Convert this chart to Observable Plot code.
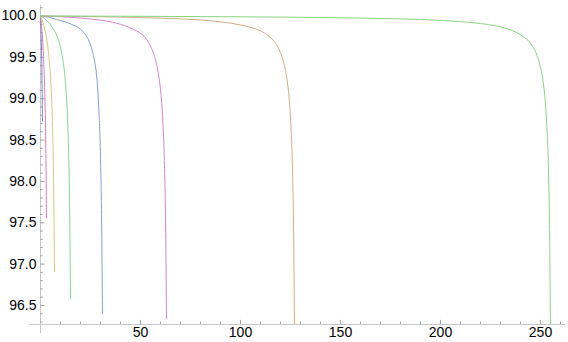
<!DOCTYPE html>
<html>
<head>
<meta charset="utf-8">
<script src="https://cdn.jsdelivr.net/npm/d3@7"></script>
<script src="https://cdn.jsdelivr.net/npm/@observablehq/plot@0.6"></script>
<style>
  html, body { margin: 0; padding: 0; background: #fff; }
  #chart svg { display: block; }
</style>
</head>
<body>
<div id="chart"></div>
<script>
// Series names (curve end points 2^k - 1)
const seriesNames = ["N2", "N4", "N8", "N16", "N32", "N64", "N128", "N256"];
const seriesColors = ["#8482d4", "#d482b0", "#d4c884", "#84d49a", "#849dd4", "#d484cc", "#d4ac84", "#88d484"];

// Values
const x2 = [0, 0.25, 0.5, 0.75, 1];
const y2 = [100, 99.82, 99.58, 99.24, 98.73];

const x4 = [0, 0.5, 1, 1.5, 2, 2.5, 2.75, 3];
const y4 = [100, 99.88, 99.73, 99.51, 99.19, 98.65, 98.21, 97.56];

const x8 = [0, 1, 2, 3, 4, 5, 5.5, 6, 6.5, 7];
const y8 = [100, 99.94, 99.85, 99.74, 99.56, 99.27, 99.03, 98.68, 98.09, 96.91];

const x16 = [0, 2, 4, 6, 8, 10, 11, 12, 13, 13.5, 14, 14.5, 15];
const y16 = [100, 99.97, 99.92, 99.86, 99.77, 99.62, 99.50, 99.32, 99.01, 98.77, 98.40, 97.80, 96.58];

const x32 = [0, 4, 8, 12, 16, 20, 22, 24, 26, 27, 28, 29, 30, 30.5, 31];
const y32 = [100, 99.985, 99.96, 99.93, 99.895, 99.84, 99.79, 99.71, 99.57, 99.46, 99.29, 98.96, 98.30, 97.66, 96.40];

const x64 = [0, 10, 20, 30, 36, 40, 44, 48, 50, 52, 54, 56, 58, 59, 60, 61, 62, 62.5, 63];
const y64 = [100, 99.992, 99.975, 99.95, 99.925, 99.90, 99.865, 99.82, 99.79, 99.75, 99.68, 99.58, 99.42, 99.29, 99.11, 98.80, 98.19, 97.57, 96.34];

const x128 = [0, 20, 40, 60, 80, 90, 100, 105, 110, 114, 117, 119, 121, 122, 123, 124, 125, 126, 126.5, 127];
const y128 = [100, 99.995, 99.987, 99.974, 99.952, 99.93, 99.892, 99.862, 99.82, 99.76, 99.69, 99.61, 99.49, 99.40, 99.27, 99.085, 98.77, 98.14, 97.51, 96.25];

const x256 = [0, 40, 80, 120, 160, 180, 200, 210, 220, 228, 234, 238, 242, 244, 246, 248, 250, 251, 252, 253, 254, 254.5, 255];
const y256 = [100, 99.997, 99.993, 99.987, 99.975, 99.965, 99.947, 99.932, 99.909, 99.879, 99.842, 99.80, 99.74, 99.70, 99.635, 99.54, 99.38, 99.255, 99.065, 98.75, 98.12, 97.48, 96.22];

// Axis ticks
const xLabelTicks = [50, 100, 150, 200, 250];
const xMinorTicks = [10, 20, 30, 40, 60, 70, 80, 90, 110, 120, 130, 140, 160, 170, 180, 190, 210, 220, 230, 240, 260];
const yMajorTicks = [96.5, 97.0, 97.5, 98.0, 98.5, 99.0, 99.5, 100.0];
const yMinorTicks = [96.3, 96.4, 96.6, 96.7, 96.8, 96.9, 97.1, 97.2, 97.3, 97.4, 97.6, 97.7, 97.8, 97.9, 98.1, 98.2, 98.3, 98.4, 98.6, 98.7, 98.8, 98.9, 99.1, 99.2, 99.3, 99.4, 99.6, 99.7, 99.8, 99.9, 100.1];

const xDomain = [0, 262.5];
const yDomain = [96.27, 100.127];

const xs = [x2, x4, x8, x16, x32, x64, x128, x256];
const ys = [y2, y4, y8, y16, y32, y64, y128, y256];
const data = [];
seriesNames.forEach((name, i) => {
  xs[i].forEach((xv, j) => data.push({series: name, x: xv, y: ys[i][j]}));
});

const axisColor = "#c8c8c8";
const tickColor = "#a0a0a0";

const chart = Plot.plot({
  width: 568,
  height: 342,
  marginLeft: 40,
  marginRight: 3,
  marginTop: 5,
  marginBottom: 18,
  style: {fontFamily: "'Liberation Sans', Arial, sans-serif", fontSize: "14px", color: "#000", background: "#fff"},
  x: {domain: xDomain, axis: null},
  y: {domain: yDomain, axis: null},
  color: {domain: seriesNames, range: seriesColors},
  marks: [
    // axis lines
    Plot.ruleY([yDomain[0]], {x1: -5.5, x2: xDomain[1], stroke: axisColor, strokeWidth: 1}),
    Plot.ruleX([0], {y1: 96.16, y2: yDomain[1], stroke: axisColor, strokeWidth: 1}),
    // x ticks (inward)
    Plot.ruleX(xMinorTicks, {x: d => d, y1: yDomain[0], y2: yDomain[0] + 0.03, stroke: tickColor}),
    Plot.ruleX(xLabelTicks, {x: d => d, y1: yDomain[0], y2: yDomain[0] + 0.05, stroke: tickColor}),
    Plot.axisX(xLabelTicks, {anchor: "bottom", label: null, tickSize: 0, tickPadding: 3, fill: "#000", fontSize: 14, tickFormat: d => String(d)}),
    // y ticks (inward)
    Plot.ruleY(yMinorTicks, {y: d => d, x1: 0, x2: 1.3, stroke: tickColor}),
    Plot.ruleY(yMajorTicks, {y: d => d, x1: 0, x2: 2.2, stroke: tickColor}),
    Plot.axisY(yMajorTicks, {anchor: "left", label: null, tickSize: 0, tickPadding: 4, fill: "#000", fontSize: 14, tickFormat: d3.format(".1f")}),
    // curves
    Plot.line(data, {x: "x", y: "y", z: "series", stroke: "series", strokeWidth: 1, curve: "monotone-x", clip: true})
  ]
});
document.getElementById("chart").appendChild(chart);
</script>
</body>
</html>
